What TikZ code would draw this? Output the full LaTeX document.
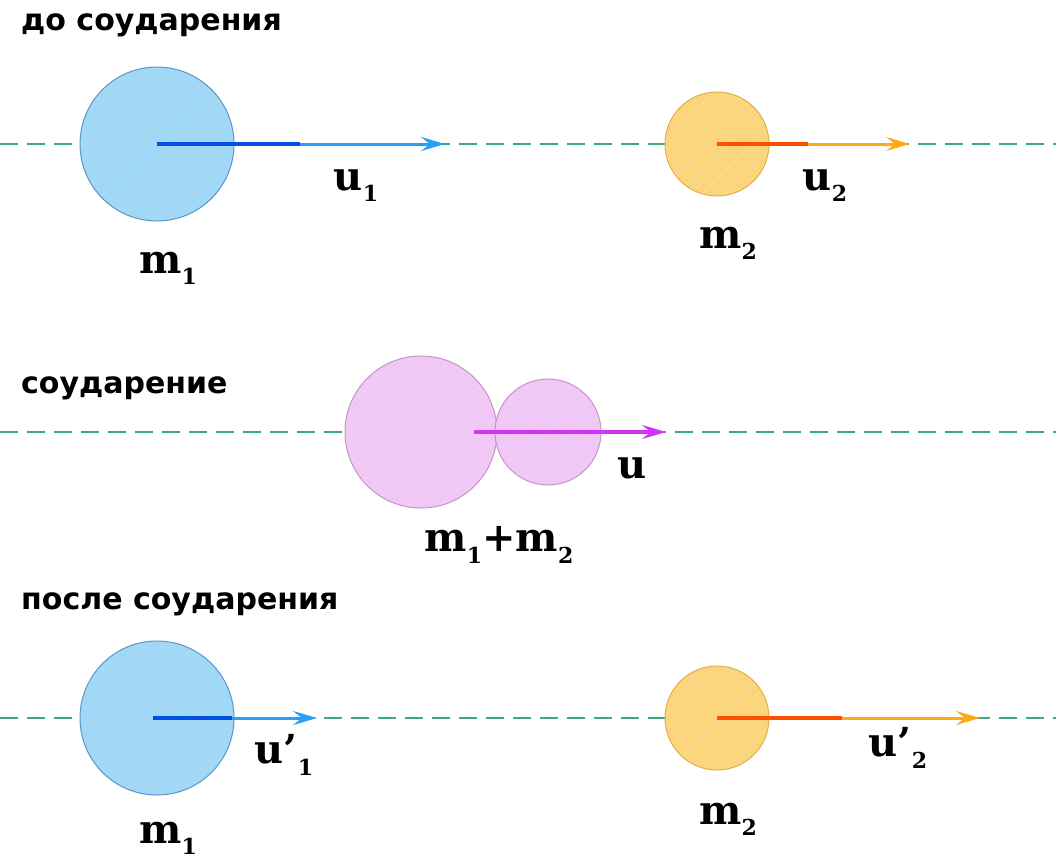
\documentclass[tikz,border=0pt]{standalone}
\usepackage{fontspec}
\setmainfont{DejaVu Sans}
\newfontfamily\lblfont{DejaVu Serif}
\usetikzlibrary{arrows.meta,patterns.meta,positioning}

\definecolor{axisgreen}{RGB}{60,170,120}
\definecolor{bluefill}{RGB}{160,216,248}
\definecolor{blueedge}{RGB}{90,150,200}
\definecolor{yellowfill}{RGB}{252,212,122}
\definecolor{yellowedge}{RGB}{225,175,70}
\definecolor{pinkfill}{RGB}{242,200,246}
\definecolor{pinkedge}{RGB}{195,150,200}
\definecolor{darkblue}{RGB}{0,80,230}
\definecolor{lightblue}{RGB}{40,160,245}
\definecolor{redorange}{RGB}{255,80,0}
\definecolor{vorange}{RGB}{255,170,20}
\definecolor{vmagenta}{RGB}{210,50,250}

\newcommand{\withsub}[2]{#1\raisebox{-0.28em}{\fontsize{22}{22}\selectfont #2}}

\begin{document}
\begin{tikzpicture}[x=1pt,y=-1pt]
\tikzstyle{heading}=[anchor=west,inner sep=0pt,font=\fontsize{30}{32}\selectfont\bfseries]
\tikzstyle{axis}=[axisgreen,line width=1.6pt,dash pattern=on 18pt off 9pt]
\tikzstyle{ball}=[circle,inner sep=0pt,line width=1pt]
\tikzstyle{bigball}=[ball,minimum size=154pt,draw=blueedge,preaction={fill=bluefill},
  pattern={Lines[angle=45,distance=8pt,line width=0.5pt]},pattern color=blueedge!40]
\tikzstyle{smallball}=[ball,minimum size=104pt,draw=yellowedge,preaction={fill=yellowfill},
  pattern={Lines[angle=45,distance=8pt,line width=0.5pt]},pattern color=yellowedge!40]
\tikzstyle{pinkball}=[ball,draw=pinkedge,preaction={fill=pinkfill},
  pattern={Lines[angle=45,distance=8pt,line width=0.5pt]},pattern color=pinkedge!50]
\tikzstyle{vec}=[line width=4pt]
\tikzstyle{vectip}=[line width=3pt,-{Stealth[length=24pt,width=14pt,inset=9pt]}]
\tikzstyle{lbl}=[font=\lblfont\fontsize{40}{42}\selectfont\bfseries,inner sep=0pt]

\useasboundingbox (0,0) rectangle (1056,862);

% before the collision
\node[heading] (title1) at (21,25) {до соударения};
\coordinate (a1l) at (0,144);
\coordinate (a1r) at (1056,144);
\draw[axis] (a1l) -- (a1r);
\node[bigball] (b1) at (157,144) {};
\node[smallball] (c1) at (717,144) {};
\coordinate (b1mid) at (300,144);
\coordinate (b1end) at (445,144);
\coordinate (c1mid) at (808,144);
\coordinate (c1end) at (910,144);
\draw[vec,darkblue] (b1.center) -- (b1mid);
\draw[vectip,lightblue] (b1mid) -- (b1end);
\draw[vec,redorange] (c1.center) -- (c1mid);
\draw[vectip,vorange] (c1mid) -- (c1end);
\node[lbl] (u1) at (356,186) {\withsub{u}{1}};
\node[lbl] (m1) at (168,268) {\withsub{m}{1}};
\node[lbl] (u2) at (825,186) {\withsub{u}{2}};
\node[lbl] (m2) at (728,243) {\withsub{m}{2}};

% collision
\node[heading] (title2) at (21,388) {соударение};
\coordinate (a2l) at (0,432);
\coordinate (a2r) at (1056,432);
\draw[axis] (a2l) -- (a2r);
\node[pinkball,minimum size=152pt] (p1) at (421,432) {};
\node[pinkball,minimum size=106pt] (p2) at (548,432) {};
\coordinate (pstart) at (474,432);
\coordinate (pend) at (666,432);
\draw[vectip,vmagenta,line width=3.5pt] (pstart) -- (pend);
\node[lbl] (u) at (632,468) {u};
\node[lbl] (msum) at (499,545) {\withsub{m}{1}+\withsub{m}{2}};

% after the collision
\node[heading] (title3) at (21,604) {после соударения};
\coordinate (a3l) at (0,718);
\coordinate (a3r) at (1056,718);
\draw[axis] (a3l) -- (a3r);
\node[bigball] (b3) at (157,718) {};
\node[smallball] (c3) at (717,718) {};
\coordinate (b3start) at (153,718);
\coordinate (b3mid) at (232,718);
\coordinate (b3end) at (317,718);
\coordinate (c3mid) at (842,718);
\coordinate (c3end) at (980,718);
\draw[vec,darkblue] (b3start) -- (b3mid);
\draw[vectip,lightblue] (b3mid) -- (b3end);
\draw[vec,redorange] (c3.center) -- (c3mid);
\draw[vectip,vorange] (c3mid) -- (c3end);
\node[lbl] (u1p) at (284,755) {\withsub{u’}{1}};
\node[lbl] (m1b) at (168,838) {\withsub{m}{1}};
\node[lbl] (u2p) at (898,748) {\withsub{u’}{2}};
\node[lbl] (m2b) at (728,819) {\withsub{m}{2}};
\end{tikzpicture}
\end{document}
